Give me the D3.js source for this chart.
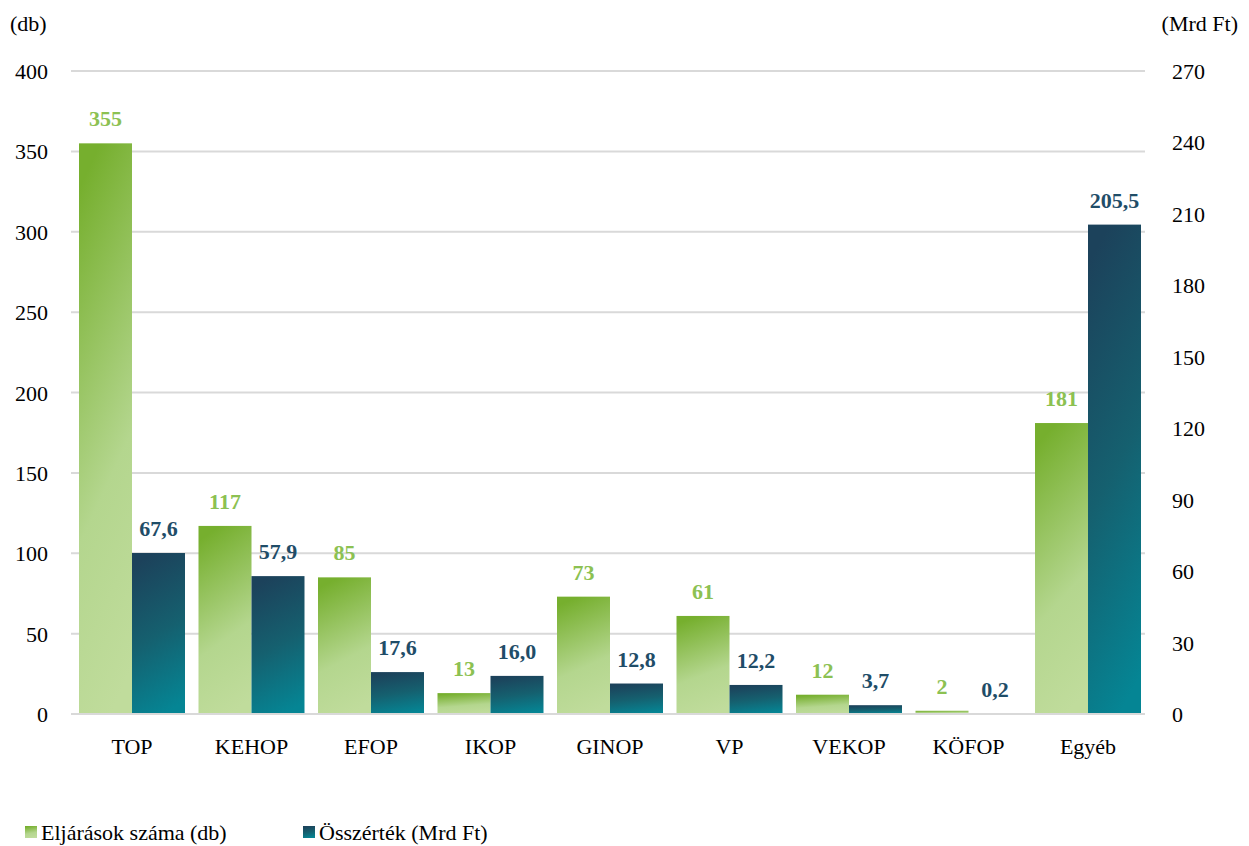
<!DOCTYPE html>
<html>
<head>
<meta charset="utf-8">
<script src="https://cdn.jsdelivr.net/npm/d3@7"></script>
<style>
  body { margin: 0; background: #fff; }
  text { font-family: "Palatino Linotype", "Book Antiqua", Palatino, "Liberation Serif", serif; }
</style>
</head>
<body>
<svg width="1249" height="846"></svg>
<script>
var categories = ["TOP", "KEHOP", "EFOP", "IKOP", "GINOP", "VP", "VEKOP", "KÖFOP", "Egyéb"];
var eljarasok = [355, 117, 85, 13, 73, 61, 12, 2, 181];
var osszertek = [67.6, 57.9, 17.6, 16.0, 12.8, 12.2, 3.7, 0.2, 205.5];
var leftTicks = [0, 50, 100, 150, 200, 250, 300, 350, 400];
var rightTicks = [0, 30, 60, 90, 120, 150, 180, 210, 240, 270];

var svg = d3.select("svg");
var width = 1249, height = 846;
var x0 = 71, x1 = 1145;
var yTop = 71, yBot = 714;

var x = d3.scaleBand().domain(categories).range([79, 1141]).paddingInner(0.113).paddingOuter(0);
var xs = d3.scaleBand().domain(["a", "b"]).range([0, x.bandwidth()]);
var yL = d3.scaleLinear().domain([0, 400]).range([yBot, yTop]);
var yR = d3.scaleLinear().domain([0, 270]).range([yBot, yTop]);

var defs = svg.append("defs");
var g1 = defs.append("linearGradient").attr("id", "gGreen")
  .attr("x1", "0.4").attr("y1", "0").attr("x2", "0.6").attr("y2", "1");
g1.append("stop").attr("offset", "0").attr("stop-color", "#76af2e");
g1.append("stop").attr("offset", "0.6").attr("stop-color", "#b4d68e");
g1.append("stop").attr("offset", "1").attr("stop-color", "#c0dc9c");
var g2 = defs.append("linearGradient").attr("id", "gBlue")
  .attr("x1", "0.4").attr("y1", "0").attr("x2", "0.6").attr("y2", "1");
g2.append("stop").attr("offset", "0").attr("stop-color", "#1c425b");
g2.append("stop").attr("offset", "0.5").attr("stop-color", "#15606f");
g2.append("stop").attr("offset", "1").attr("stop-color", "#058594");

// grid
svg.append("g").selectAll("line").data(leftTicks).enter().append("line")
  .attr("x1", x0).attr("x2", x1)
  .attr("y1", function(d) { return yL(d); }).attr("y2", function(d) { return yL(d); })
  .attr("stroke", "#d9d9d9").attr("stroke-width", 2);

// left axis labels
svg.append("g").selectAll("text").data(leftTicks).enter().append("text")
  .attr("x", 48).attr("y", function(d) { return yL(d) + 8; })
  .attr("text-anchor", "end").attr("font-size", 22).attr("fill", "#000")
  .text(function(d) { return d; });

// right axis labels
svg.append("g").selectAll("text").data(rightTicks).enter().append("text")
  .attr("x", 1172).attr("y", function(d) { return yR(d) + 8; })
  .attr("text-anchor", "start").attr("font-size", 22).attr("fill", "#000")
  .text(function(d) { return d; });

svg.append("text").attr("x", 10).attr("y", 31).attr("font-size", 22).text("(db)");
svg.append("text").attr("x", 1238).attr("y", 31).attr("text-anchor", "end").attr("font-size", 22).text("(Mrd Ft)");

// bars
var groups = svg.append("g").selectAll("g").data(categories).enter().append("g")
  .attr("transform", function(d) { return "translate(" + x(d) + ",0)"; });

groups.append("rect")
  .attr("x", xs("a")).attr("width", xs.bandwidth())
  .attr("y", function(d, i) { return yL(eljarasok[i]); })
  .attr("height", function(d, i) { return yBot - yL(eljarasok[i]); })
  .attr("fill", "url(#gGreen)");

groups.append("rect")
  .attr("x", xs("b")).attr("width", xs.bandwidth())
  .attr("y", function(d, i) { return yR(osszertek[i]); })
  .attr("height", function(d, i) { return yBot - yR(osszertek[i]); })
  .attr("fill", "url(#gBlue)");

groups.append("text")
  .attr("x", xs("a") + xs.bandwidth() / 2)
  .attr("y", function(d, i) { return yL(eljarasok[i]) - 17; })
  .attr("text-anchor", "middle").attr("font-size", 22).attr("font-weight", "bold")
  .attr("fill", "#8cc152")
  .text(function(d, i) { return eljarasok[i]; });

groups.append("text")
  .attr("x", xs("b") + xs.bandwidth() / 2)
  .attr("y", function(d, i) { return yR(osszertek[i]) - 17; })
  .attr("text-anchor", "middle").attr("font-size", 22).attr("font-weight", "bold")
  .attr("fill", "#1f4d68")
  .text(function(d, i) { return osszertek[i].toFixed(1).replace(".", ","); });

// baseline
svg.append("line").attr("x1", x0).attr("x2", x1).attr("y1", yBot).attr("y2", yBot)
  .attr("stroke", "#d9d9d9").attr("stroke-width", 2);

// category labels
groups.append("text")
  .attr("x", x.bandwidth() / 2).attr("y", 754)
  .attr("text-anchor", "middle").attr("font-size", 22).attr("fill", "#000")
  .text(function(d) { return d; });

// legend
var legendItems = [
  {label: "Eljárások száma (db)", fill: "url(#gGreen)", x: 25},
  {label: "Összérték (Mrd Ft)", fill: "url(#gBlue)", x: 303}
];
var lg = svg.append("g").selectAll("g").data(legendItems).enter().append("g")
  .attr("transform", function(d) { return "translate(" + d.x + ",826)"; });
lg.append("rect").attr("width", 12).attr("height", 12).attr("fill", function(d) { return d.fill; });
lg.append("text").attr("x", 16).attr("y", 14).attr("font-size", 22).attr("fill", "#000")
  .text(function(d) { return d.label; });
</script>
</body>
</html>
